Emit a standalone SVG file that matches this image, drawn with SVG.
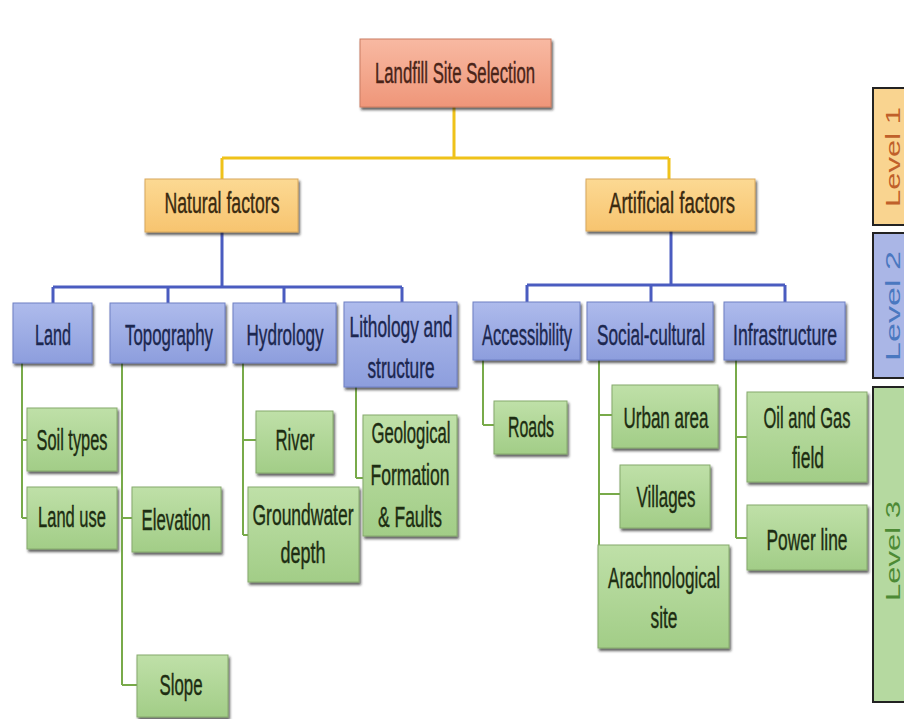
<svg xmlns="http://www.w3.org/2000/svg" width="904" height="719" viewBox="0 0 904 719">
<defs>
<linearGradient id="gTop" x1="0" y1="0" x2="0" y2="1"><stop offset="0" stop-color="#f8b9a2"/><stop offset="1" stop-color="#ef9679"/></linearGradient>
<linearGradient id="gL1" x1="0" y1="0" x2="0" y2="1"><stop offset="0" stop-color="#fcd993"/><stop offset="1" stop-color="#f7c46f"/></linearGradient>
<linearGradient id="gL2" x1="0" y1="0" x2="0" y2="1"><stop offset="0" stop-color="#aebbec"/><stop offset="1" stop-color="#8d9edd"/></linearGradient>
<linearGradient id="gL3" x1="0" y1="0" x2="0" y2="1"><stop offset="0" stop-color="#bfe0a8"/><stop offset="1" stop-color="#a2cd87"/></linearGradient>
<filter id="sh" x="-10%" y="-10%" width="125%" height="130%"><feDropShadow dx="1.5" dy="2.5" stdDeviation="0.8" flood-color="#1a1a1a" flood-opacity="0.7"/></filter>
</defs>
<style>
.box{filter:url(#sh);stroke-width:1}
.top{fill:url(#gTop);stroke:#c97c62}
.l1{fill:url(#gL1);stroke:#d8a85c}
.l2{fill:url(#gL2);stroke:#6f80c4}
.l3{fill:url(#gL3);stroke:#86a96c}
text{font-family:"Liberation Sans Narrow","Liberation Sans",Arial,sans-serif;font-size:21px;text-anchor:middle;stroke-width:0.3px}
.t0{fill:#4a2418;stroke:#4a2418}
.t1{fill:#3a2a10;stroke:#3a2a10}
.t2{fill:#1c2750;stroke:#1c2750}
.t3{fill:#1d2d12;stroke:#1d2d12}
.yl{stroke:#efc21a;stroke-width:3;fill:none}
.bl{stroke:#4a5cc0;stroke-width:3;fill:none}
.gl{stroke:#78aa4a;stroke-width:2;fill:none}
text.lvt{font-family:"Liberation Sans",Arial,sans-serif;font-size:20px;stroke:none}
</style>
<rect width="904" height="719" fill="#ffffff"/>
<g id="connectors">
<path class="yl" d="M454 107V158M222 158H669M222 158V179M669 158V179"/>
<path class="bl" d="M222 232V287M53 287H402M53 287V303M168 287V303M284 287V303M402 287V302"/>
<path class="bl" d="M671 231V285M527 285H785M527 285V302M651 285V302M785 285V302"/>
<path class="gl" d="M22 363V518M22 440H27M22 518H27"/>
<path class="gl" d="M122 363V685M122 518H132M122 685H137"/>
<path class="gl" d="M243 363V535M243 440H256M243 535H248"/>
<path class="gl" d="M356 387V478M356 478H363"/>
<path class="gl" d="M483 360V425M483 425H494"/>
<path class="gl" d="M599 360V545M599 415H612M599 494H620"/>
<path class="gl" d="M736 360V538M736 437H747M736 538H747"/>
</g>
<g id="n-landfill"><rect class="box top" x="360" y="39" width="191" height="68"/><text class="t0" transform="translate(455 83) scale(1 1.37)" textLength="160" lengthAdjust="spacingAndGlyphs">Landfill Site Selection</text></g>
<g id="n-natural"><rect class="box l1" x="145" y="179" width="153" height="53"/><text class="t1" transform="translate(222 213) scale(1 1.37)" textLength="115" lengthAdjust="spacingAndGlyphs">Natural factors</text></g>
<g id="n-artificial"><rect class="box l1" x="586" y="179" width="169" height="52"/><text class="t1" transform="translate(672 213) scale(1 1.37)" textLength="126" lengthAdjust="spacingAndGlyphs">Artificial  factors</text></g>
<g id="n-land"><rect class="box l2" x="13" y="303" width="79" height="60"/><text class="t2" transform="translate(53 345) scale(1 1.37)" textLength="36" lengthAdjust="spacingAndGlyphs">Land</text></g>
<g id="n-topography"><rect class="box l2" x="110" y="303" width="115" height="60"/><text class="t2" transform="translate(169 345) scale(1 1.37)" textLength="88" lengthAdjust="spacingAndGlyphs">Topography</text></g>
<g id="n-hydrology"><rect class="box l2" x="233" y="303" width="103" height="60"/><text class="t2" transform="translate(285 345) scale(1 1.37)" textLength="77" lengthAdjust="spacingAndGlyphs">Hydrology</text></g>
<g id="n-lithology"><rect class="box l2" x="344" y="302" width="113" height="85"/><text class="t2" transform="translate(401 337) scale(1 1.37)" textLength="103" lengthAdjust="spacingAndGlyphs">Lithology and</text><text class="t2" transform="translate(401 378) scale(1 1.37)" textLength="67" lengthAdjust="spacingAndGlyphs">structure</text></g>
<g id="n-accessibility"><rect class="box l2" x="473" y="302" width="107" height="58"/><text class="t2" transform="translate(527 345) scale(1 1.37)" textLength="90" lengthAdjust="spacingAndGlyphs">Accessibility</text></g>
<g id="n-social"><rect class="box l2" x="587" y="302" width="126" height="58"/><text class="t2" transform="translate(651 345) scale(1 1.37)" textLength="108" lengthAdjust="spacingAndGlyphs">Social-cultural</text></g>
<g id="n-infrastructure"><rect class="box l2" x="724" y="302" width="121" height="58"/><text class="t2" transform="translate(785 345) scale(1 1.37)" textLength="104" lengthAdjust="spacingAndGlyphs">Infrastructure</text></g>
<g id="n-soil"><rect class="box l3" x="27" y="408" width="90" height="63"/><text class="t3" transform="translate(72 450) scale(1 1.37)" textLength="71" lengthAdjust="spacingAndGlyphs">Soil types</text></g>
<g id="n-landuse"><rect class="box l3" x="27" y="487" width="90" height="62"/><text class="t3" transform="translate(72 527) scale(1 1.37)" textLength="68" lengthAdjust="spacingAndGlyphs">Land use</text></g>
<g id="n-elevation"><rect class="box l3" x="132" y="487" width="89" height="65"/><text class="t3" transform="translate(176 530) scale(1 1.37)" textLength="69" lengthAdjust="spacingAndGlyphs">Elevation</text></g>
<g id="n-slope"><rect class="box l3" x="137" y="655" width="91" height="62"/><text class="t3" transform="translate(181 695) scale(1 1.37)" textLength="43" lengthAdjust="spacingAndGlyphs">Slope</text></g>
<g id="n-river"><rect class="box l3" x="256" y="411" width="77" height="62"/><text class="t3" transform="translate(295 450) scale(1 1.37)" textLength="39" lengthAdjust="spacingAndGlyphs">River</text></g>
<g id="n-groundwater"><rect class="box l3" x="248" y="487" width="111" height="95"/><text class="t3" transform="translate(303 525) scale(1 1.37)" textLength="101" lengthAdjust="spacingAndGlyphs">Groundwater</text><text class="t3" transform="translate(303 563) scale(1 1.37)" textLength="45" lengthAdjust="spacingAndGlyphs">depth</text></g>
<g id="n-geological"><rect class="box l3" x="363" y="415" width="94" height="121"/><text class="t3" transform="translate(411 443) scale(1 1.37)" textLength="79" lengthAdjust="spacingAndGlyphs">Geological</text><text class="t3" transform="translate(410 485) scale(1 1.37)" textLength="79" lengthAdjust="spacingAndGlyphs">Formation</text><text class="t3" transform="translate(410 527) scale(1 1.37)" textLength="64" lengthAdjust="spacingAndGlyphs">&amp; Faults</text></g>
<g id="n-roads"><rect class="box l3" x="494" y="401" width="73" height="53"/><text class="t3" transform="translate(531 437) scale(1 1.37)" textLength="46" lengthAdjust="spacingAndGlyphs">Roads</text></g>
<g id="n-urban"><rect class="box l3" x="612" y="385" width="106" height="63"/><text class="t3" transform="translate(666 428) scale(1 1.37)" textLength="85" lengthAdjust="spacingAndGlyphs">Urban area</text></g>
<g id="n-villages"><rect class="box l3" x="620" y="465" width="90" height="63"/><text class="t3" transform="translate(666 507) scale(1 1.37)" textLength="59" lengthAdjust="spacingAndGlyphs">Villages</text></g>
<g id="n-arach"><rect class="box l3" x="598" y="545" width="131" height="103"/><text class="t3" transform="translate(664 588) scale(1 1.37)" textLength="112" lengthAdjust="spacingAndGlyphs">Arachnological</text><text class="t3" transform="translate(664 628) scale(1 1.37)" textLength="27" lengthAdjust="spacingAndGlyphs">site</text></g>
<g id="n-oil"><rect class="box l3" x="747" y="392" width="120" height="90"/><text class="t3" transform="translate(807 428) scale(1 1.37)" textLength="87" lengthAdjust="spacingAndGlyphs">Oil and Gas</text><text class="t3" transform="translate(808 468) scale(1 1.37)" textLength="32" lengthAdjust="spacingAndGlyphs">field</text></g>
<g id="n-power"><rect class="box l3" x="747" y="505" width="120" height="65"/><text class="t3" transform="translate(807 550) scale(1 1.37)" textLength="81" lengthAdjust="spacingAndGlyphs">Power line</text></g>
<g id="level1"><rect x="873" y="88" width="40" height="137" fill="#f9d490" stroke="#222" stroke-width="2"/><text class="lvt" transform="translate(900 157) rotate(-90)" fill="#c0602a" textLength="100" lengthAdjust="spacingAndGlyphs">Level 1</text></g>
<g id="level2"><rect x="873" y="233" width="40" height="145" fill="#aab6e6" stroke="#222" stroke-width="2"/><text class="lvt" transform="translate(900 306) rotate(-90)" fill="#4a78c0" textLength="110" lengthAdjust="spacingAndGlyphs">Level 2</text></g>
<g id="level3"><rect x="873" y="387" width="40" height="315" fill="#b5d9a0" stroke="#222" stroke-width="2"/><text class="lvt" transform="translate(900 551) rotate(-90)" fill="#4d8a35" textLength="100" lengthAdjust="spacingAndGlyphs">Level 3</text></g>
</svg>
